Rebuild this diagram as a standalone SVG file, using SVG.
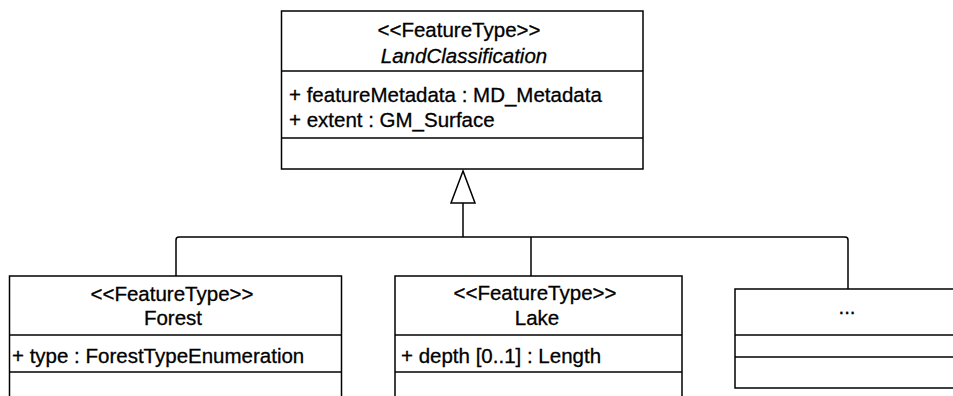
<svg xmlns="http://www.w3.org/2000/svg" width="953" height="396" viewBox="0 0 953 396">
<style>
.box{fill:#fff;stroke:#000;stroke-width:1.5}
.div{stroke:#000;stroke-width:1.5}
.t{font-family:"Liberation Sans",Arial,sans-serif;font-size:20.5px;fill:#000;stroke:#000;stroke-width:0.3}
.c{text-anchor:middle}
.i{font-style:italic}
.conn{fill:none;stroke:#000;stroke-width:1.5}
</style>
<rect width="953" height="396" fill="#fff"/>
<g id="connectors">
<path class="conn" d="M176,276 V240 Q176,237 179,237 H845 Q848,237 848,240 V289"/>
<path class="conn" d="M531,237 V276"/>
<path class="conn" d="M463,237 V203"/>
<polygon points="463,171 451,203 475,203" fill="#fff" stroke="#000" stroke-width="1.5"/>
</g>
<g id="LandClassification">
<rect class="box" x="281.5" y="11" width="361.5" height="158"/>
<line class="div" x1="281.5" y1="71" x2="643" y2="71"/>
<line class="div" x1="281.5" y1="138" x2="643" y2="138"/>
<text class="t c" x="459" y="37">&lt;&lt;FeatureType&gt;&gt;</text>
<text class="t c i" x="464" y="63">LandClassification</text>
<text class="t" x="289" y="102">+ featureMetadata : MD_Metadata</text>
<text class="t" x="289" y="127">+ extent : GM_Surface</text>
</g>
<g id="Forest">
<rect class="box" x="9.5" y="276" width="332" height="130"/>
<line class="div" x1="9.5" y1="335" x2="341.5" y2="335"/>
<line class="div" x1="9.5" y1="372" x2="341.5" y2="372"/>
<text class="t c" x="172" y="301">&lt;&lt;FeatureType&gt;&gt;</text>
<text class="t c" x="173" y="325">Forest</text>
<text class="t" x="12" y="363">+ type : ForestTypeEnumeration</text>
</g>
<g id="Lake">
<rect class="box" x="395" y="276" width="287" height="130"/>
<line class="div" x1="395" y1="335" x2="682" y2="335"/>
<line class="div" x1="395" y1="372" x2="682" y2="372"/>
<text class="t c" x="535" y="300">&lt;&lt;FeatureType&gt;&gt;</text>
<text class="t c" x="537" y="325">Lake</text>
<text class="t" x="401" y="363">+ depth [0..1] : Length</text>
</g>
<g id="Other">
<rect class="box" x="735" y="289" width="240" height="99"/>
<line class="div" x1="735" y1="335" x2="975" y2="335"/>
<line class="div" x1="735" y1="357" x2="975" y2="357"/>
<text class="t c" x="847" y="314">...</text>
</g>
</svg>
